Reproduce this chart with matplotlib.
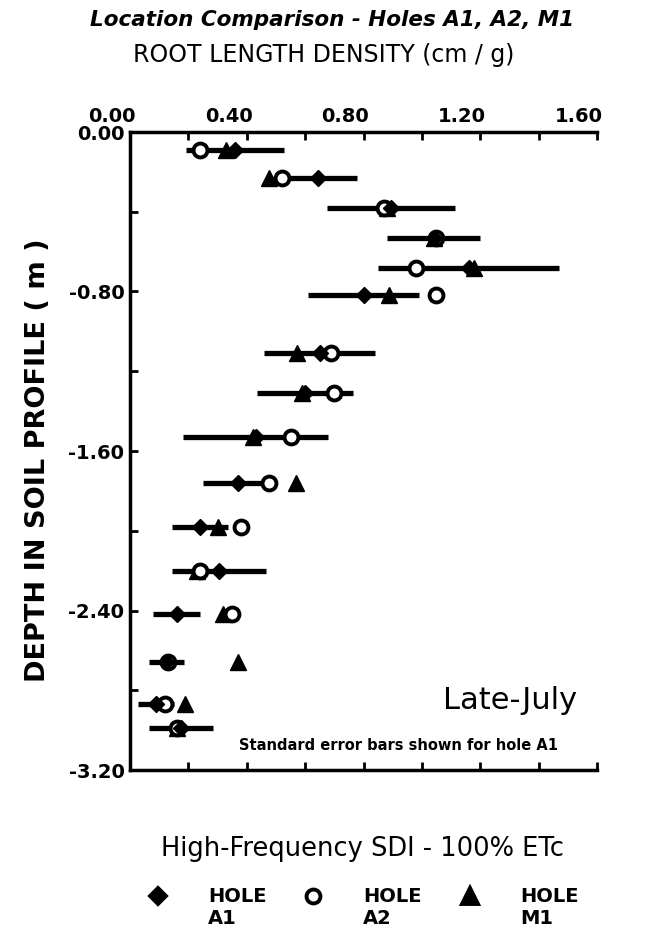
import numpy as np
import matplotlib.pyplot as plt
import matplotlib.transforms as mtransforms
from matplotlib.lines import Line2D
from matplotlib.ticker import FixedLocator, FuncFormatter

# sampling depth of each row (m, negative downwards)
depth = [-0.09, -0.23, -0.38, -0.53, -0.68, -0.82, -1.11, -1.31,
         -1.53, -1.76, -1.98, -2.20, -2.42, -2.66, -2.87, -2.99]

# root length density (cm / g)
hole_a1 = [0.36, 0.645, 0.895, 1.04, 1.16, 0.80, 0.65, 0.60,
           0.43, 0.37, 0.24, 0.305, 0.16, 0.125, 0.09, 0.175]
hole_a1_se = [0.168, 0.132, 0.22, 0.16, 0.31, 0.19, 0.19, 0.165,
              0.25, 0.12, 0.095, 0.16, 0.08, 0.06, 0.062, 0.11]
hole_a2 = [0.24, 0.52, 0.87, 1.05, 0.98, 1.05, 0.69, 0.70,
           0.55, 0.475, 0.38, 0.24, 0.35, 0.13, 0.12, 0.16]
hole_m1 = [0.33, 0.475, 0.88, 1.04, 1.18, 0.887, 0.573, 0.59,
           0.42, 0.57, 0.30, 0.23, 0.32, 0.37, 0.19, 0.16]

x_ticks = [0.0, 0.4, 0.8, 1.2, 1.6]
y_ticks = [0.0, -0.8, -1.6, -2.4, -3.2]

plt.rcParams['font.family'] = ['DejaVu Sans']

fig = plt.figure(figsize=(6.54, 9.30), dpi=100)
ax = fig.add_axes([130 / 654, 1 - 770 / 930, 467 / 654, 638 / 930])

ax.errorbar(hole_a1, depth, xerr=hole_a1_se, fmt='none', ecolor='black',
            elinewidth=3.8, capsize=0, zorder=2)
ax.plot(hole_m1, depth, linestyle='none', marker='^', markersize=11,
        color='black', zorder=3)
ax.plot(hole_a2, depth, linestyle='none', marker='o', markersize=10,
        markerfacecolor='white', markeredgecolor='black',
        markeredgewidth=2.8, zorder=4)
ax.plot(hole_a1, depth, linestyle='none', marker='D', markersize=8.5,
        color='black', zorder=5)

ax.set_xlim(0, 1.6)
ax.set_ylim(-3.2, 0)

ax.xaxis.set_major_locator(FixedLocator(x_ticks))
ax.xaxis.set_minor_locator(FixedLocator([0.2, 0.6, 1.0, 1.4]))
ax.yaxis.set_major_locator(FixedLocator(y_ticks))
ax.yaxis.set_minor_locator(FixedLocator([-0.4, -1.2, -2.0, -2.8]))
ax.xaxis.set_major_formatter(FuncFormatter(lambda v, p: "%.2f" % v))
ax.yaxis.set_major_formatter(FuncFormatter(lambda v, p: "%.2f" % v))

ax.tick_params(which='both', direction='in', top=True, bottom=True,
               left=True, right=False, labeltop=True, labelbottom=False,
               length=6, width=2)
ax.tick_params(axis='both', labelsize=14, pad=4)
# the top labels sit a little to the left of their ticks in the original
shift = mtransforms.ScaledTranslation(-0.18, 0, fig.dpi_scale_trans)
for lab in ax.get_xticklabels() + ax.get_yticklabels():
    lab.set_fontweight('bold')
for lab in ax.xaxis.get_majorticklabels():
    lab.set_transform(lab.get_transform() + shift)

ax.spines['right'].set_visible(False)
for s in ['top', 'bottom', 'left']:
    ax.spines[s].set_linewidth(2.5)

ax.text((577 - 130) / 467, (770 - 700) / 638, "Late-July",
        transform=ax.transAxes, ha='right', va='center', fontsize=22)
ax.text((558 - 130) / 467, (770 - 745) / 638,
        "Standard error bars shown for hole A1",
        transform=ax.transAxes, ha='right', va='center', fontsize=10.5,
        fontweight='bold')

fig.text(332 / 654, 1 - 20 / 930, "Location Comparison - Holes A1, A2, M1",
         ha='center', va='center', fontsize=15.5, fontweight='bold',
         fontstyle='italic')
fig.text(324 / 654, 1 - 55 / 930, "ROOT LENGTH DENSITY (cm / g)",
         ha='center', va='center', fontsize=17)
fig.text(38 / 654, 1 - 460 / 930, "DEPTH IN SOIL PROFILE ( m )",
         ha='center', va='center', rotation=90, fontsize=19.5,
         fontweight='bold')
fig.text(362 / 654, 1 - 849 / 930, "High-Frequency SDI - 100% ETc",
         ha='center', va='center', fontsize=18.5)

# legend drawn below the plot
legend_markers = [('D', 'black', 8.5), ('o', 'white', 10), ('^', 'black', 11)]
legend_labels = ["HOLE\nA1", "HOLE\nA2", "HOLE\nM1"]
legend_x = [158, 313, 470]
for (mk, fc, ms), lab, lx in zip(legend_markers, legend_labels, legend_x):
    fig.add_artist(Line2D([lx / 654], [1 - 896 / 930], marker=mk,
                          markersize=ms, markerfacecolor=fc,
                          markeredgecolor='black', markeredgewidth=2.8,
                          linestyle='none', transform=fig.transFigure))
    fig.text((lx + 50) / 654, 1 - 887 / 930, lab, ha='left', va='top',
             fontsize=14, fontweight='bold', linespacing=1.2)

fig.savefig("out.png", dpi=100)
